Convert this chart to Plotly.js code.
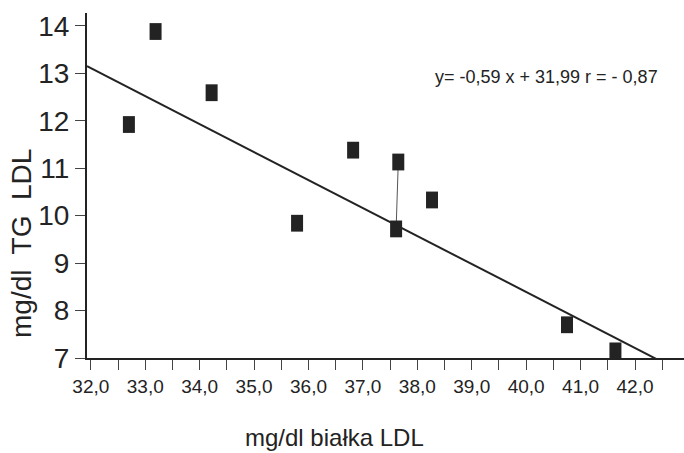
<!DOCTYPE html>
<html>
<head>
<meta charset="utf-8">
<script src="https://cdn.plot.ly/plotly-3.0.1.min.js"></script>
<style>
  html, body { margin: 0; padding: 0; background: #ffffff; }
  #chart { width: 684px; height: 453px; }
</style>
</head>
<body>
<div id="chart"></div>
<script>
// Measured points: protein LDL (mg/dl) vs TG LDL (mg/dl)
const proteinLDL = [32.70, 33.19, 34.22, 35.79, 36.82, 37.65, 37.61, 38.27, 40.75, 41.64];
const tgLDL      = [11.92, 13.88, 12.59, 9.84, 11.38, 11.13, 9.72, 10.33, 7.70, 7.15];

// Thin connector drawn between two of the points in the original
const linkX = [37.65, 37.61];
const linkY = [11.13, 9.72];

// Regression line as printed on the chart: y = -0,59 x + 31,99
const fitSlope = -0.59;
const fitIntercept = 31.99;
const fitXEnds = [31.93, 42.6];

// Axis ticks
const xTickVals = [32, 32.5, 33, 33.5, 34, 34.5, 35, 35.5, 36, 36.5, 37, 37.5, 38, 38.5, 39, 39.5, 40, 40.5, 41, 41.5, 42, 42.5];
const xTickText = ['32,0', '', '33,0', '', '34,0', '', '35,0', '', '36,0', '', '37,0', '', '38,0', '', '39,0', '', '40,0', '', '41,0', '', '42,0', ''];
const yTickVals = [7, 8, 9, 10, 11, 12, 13, 14];
const yTickText = ['7', '8', '9', '10', '11', '12', '13', '14'];

const eqText = 'y= -0,59 x + 31,99 r = - 0,87';
const xTitle = 'mg/dl białka LDL';
const yTitle = 'mg/dl  TG  LDL';

const ink = '#232323';
const regular = '"Liberation Sans", Arial, sans-serif';

const fitY = fitXEnds.map(x => fitSlope * x + fitIntercept);

const traces = [
  {
    type: 'scatter', mode: 'lines',
    x: fitXEnds, y: fitY,
    line: { color: ink, width: 2 },
    hoverinfo: 'skip', showlegend: false
  },
  {
    type: 'scatter', mode: 'lines',
    x: linkX, y: linkY,
    line: { color: '#555555', width: 1 },
    hoverinfo: 'skip', showlegend: false
  },
  {
    type: 'scatter', mode: 'markers',
    x: proteinLDL, y: tgLDL,
    cliponaxis: false,
    marker: { symbol: 'line-ns', size: 12, color: ink, line: { color: ink, width: 12 } },
    showlegend: false
  }
];

const layout = {
  width: 684, height: 453,
  margin: { l: 87, r: 0, t: 13, b: 95 },
  paper_bgcolor: '#ffffff', plot_bgcolor: '#ffffff',
  showlegend: false,
  xaxis: {
    range: [31.93, 42.9],
    showgrid: false, zeroline: false,
    showline: true, linecolor: ink, linewidth: 2,
    ticks: 'outside', ticklen: 10, tickwidth: 1, tickcolor: '#444',
    tickvals: xTickVals, ticktext: xTickText,
    tickfont: { family: regular, size: 19, color: ink }
  },
  yaxis: {
    range: [7, 14.27],
    showgrid: false, zeroline: false,
    showline: true, linecolor: ink, linewidth: 2,
    ticks: 'outside', ticklen: 10, tickwidth: 1, tickcolor: '#444',
    tickvals: yTickVals, ticktext: yTickText,
    tickfont: { family: regular, size: 28, color: ink }
  },
  annotations: [
    {
      text: eqText, xref: 'paper', yref: 'paper',
      x: 0.7697, y: 0.8145, xanchor: 'center', yanchor: 'middle',
      showarrow: false, font: { family: regular, size: 18, color: ink }
    },
    {
      text: xTitle, xref: 'paper', yref: 'paper',
      x: 0.4154, y: -0.229, xanchor: 'center', yanchor: 'middle',
      showarrow: false, font: { family: regular, size: 24, color: ink }
    },
    {
      text: yTitle, xref: 'paper', yref: 'paper',
      x: -0.1106, y: 0.3333, xanchor: 'center', yanchor: 'middle',
      textangle: -90,
      showarrow: false, font: { family: regular, size: 28, color: ink }
    }
  ]
};

Plotly.newPlot('chart', traces, layout, { displayModeBar: false, staticPlot: true });
</script>
</body>
</html>
